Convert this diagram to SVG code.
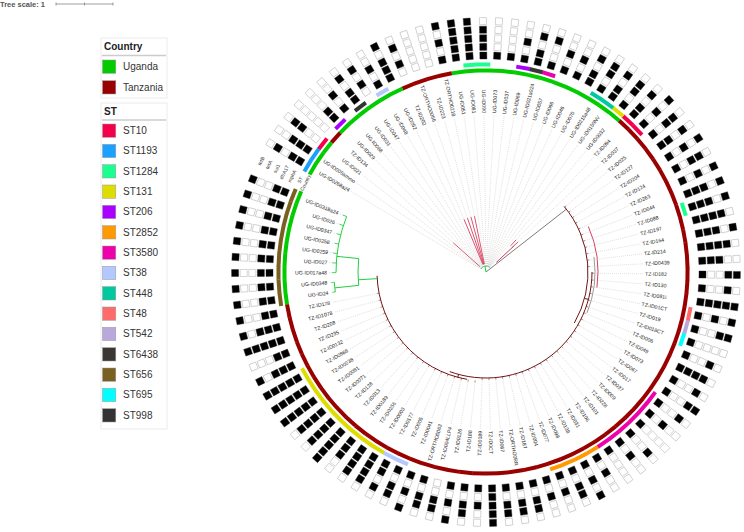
<svg xmlns="http://www.w3.org/2000/svg" xmlns:xlink="http://www.w3.org/1999/xlink" width="744" height="532" viewBox="0 0 744 532">
<style>
text{font-family:"Liberation Sans",Arial,sans-serif}
.lg{font-size:10px;fill:#333}
.lt{font-size:10px;font-weight:bold;fill:#222}
#leaves text{font-size:5.2px;fill:#222}
.f{text-anchor:end}
.hd{font-size:5px;fill:#333;text-anchor:middle}
.d{stroke:#c4c4c4;stroke-width:.5;stroke-dasharray:1 1}
.t{stroke:#6e1414;stroke-width:.5}
.r{stroke:#d23c5a;stroke-width:.8}
.g{stroke:#22d040;stroke-width:.8}
.tr{fill:none;stroke-width:1}
.sq{stroke:#999;stroke-width:.5}
</style>
<defs>
<rect id="B" y="-3.5" width="7" height="7" fill="#000" stroke="#222" stroke-width=".4"/>
<rect id="W" y="-3.5" width="7" height="7" fill="#fff" stroke="#aaa" stroke-width=".5"/>
<g id="p11001"><use href="#B" x="213"/><use href="#B" x="221.6"/><use href="#W" x="230.2"/><use href="#W" x="238.8"/><use href="#B" x="247.4"/></g>
<g id="p11101"><use href="#B" x="213"/><use href="#B" x="221.6"/><use href="#B" x="230.2"/><use href="#W" x="238.8"/><use href="#B" x="247.4"/></g>
<g id="p11111"><use href="#B" x="213"/><use href="#B" x="221.6"/><use href="#B" x="230.2"/><use href="#B" x="238.8"/><use href="#B" x="247.4"/></g>
<g id="p11000"><use href="#B" x="213"/><use href="#B" x="221.6"/><use href="#W" x="230.2"/><use href="#W" x="238.8"/><use href="#W" x="247.4"/></g>
<g id="p11110"><use href="#B" x="213"/><use href="#B" x="221.6"/><use href="#B" x="230.2"/><use href="#B" x="238.8"/><use href="#W" x="247.4"/></g>
<g id="p11100"><use href="#B" x="213"/><use href="#B" x="221.6"/><use href="#B" x="230.2"/><use href="#W" x="238.8"/><use href="#W" x="247.4"/></g>
<g id="p11010"><use href="#B" x="213"/><use href="#B" x="221.6"/><use href="#W" x="230.2"/><use href="#B" x="238.8"/><use href="#W" x="247.4"/></g>
<g id="p10110"><use href="#B" x="213"/><use href="#W" x="221.6"/><use href="#B" x="230.2"/><use href="#B" x="238.8"/><use href="#W" x="247.4"/></g>
<g id="p10101"><use href="#B" x="213"/><use href="#W" x="221.6"/><use href="#B" x="230.2"/><use href="#W" x="238.8"/><use href="#B" x="247.4"/></g>
<g id="p00110"><use href="#W" x="213"/><use href="#W" x="221.6"/><use href="#B" x="230.2"/><use href="#B" x="238.8"/><use href="#W" x="247.4"/></g>
<g id="p10100"><use href="#B" x="213"/><use href="#W" x="221.6"/><use href="#B" x="230.2"/><use href="#W" x="238.8"/><use href="#W" x="247.4"/></g>
<g id="p10000"><use href="#B" x="213"/><use href="#W" x="221.6"/><use href="#W" x="230.2"/><use href="#W" x="238.8"/><use href="#W" x="247.4"/></g>
<g id="p10010"><use href="#B" x="213"/><use href="#W" x="221.6"/><use href="#W" x="230.2"/><use href="#B" x="238.8"/><use href="#W" x="247.4"/></g>
<g id="p10011"><use href="#B" x="213"/><use href="#W" x="221.6"/><use href="#W" x="230.2"/><use href="#B" x="238.8"/><use href="#B" x="247.4"/></g>
<g id="p00000"><use href="#W" x="213"/><use href="#W" x="221.6"/><use href="#W" x="230.2"/><use href="#W" x="238.8"/><use href="#W" x="247.4"/></g>
<g id="p01010"><use href="#W" x="213"/><use href="#B" x="221.6"/><use href="#W" x="230.2"/><use href="#B" x="238.8"/><use href="#W" x="247.4"/></g>
<rect id="cU" x="199.5" y="-6.6" width="4" height="13.2" fill="#00cc00"/>
<rect id="cT" x="199.5" y="-6.6" width="4" height="13.2" fill="#990000"/>
<rect id="s10" x="205.5" y="-6.8" width="4" height="13.6" fill="#f5004a"/>
<rect id="s1193" x="205.5" y="-6.8" width="4" height="13.6" fill="#1aa0ff"/>
<rect id="s1284" x="205.5" y="-6.8" width="4" height="13.6" fill="#1aff90"/>
<rect id="s131" x="205.5" y="-6.8" width="4" height="13.6" fill="#dddd00"/>
<rect id="s206" x="205.5" y="-6.8" width="4" height="13.6" fill="#aa00ff"/>
<rect id="s2852" x="205.5" y="-6.8" width="4" height="13.6" fill="#ff9900"/>
<rect id="s3580" x="205.5" y="-6.8" width="4" height="13.6" fill="#ee00aa"/>
<rect id="s38" x="205.5" y="-6.8" width="4" height="13.6" fill="#b3c8ff"/>
<rect id="s448" x="205.5" y="-6.8" width="4" height="13.6" fill="#00c9a0"/>
<rect id="s48" x="205.5" y="-6.8" width="4" height="13.6" fill="#ff6b6b"/>
<rect id="s542" x="205.5" y="-6.8" width="4" height="13.6" fill="#b8a8dc"/>
<rect id="s6438" x="205.5" y="-6.8" width="4" height="13.6" fill="#3a3634"/>
<rect id="s656" x="205.5" y="-6.8" width="4" height="13.6" fill="#7a6020"/>
<rect id="s695" x="205.5" y="-6.8" width="4" height="13.6" fill="#00ffff"/>
<rect id="s998" x="205.5" y="-6.8" width="4" height="13.6" fill="#333333"/>
</defs>
<rect width="744" height="532" fill="#fff"/>
<g id="scale">
<text x="0" y="7" style="font-size:7.5px;font-weight:bold;fill:#555">Tree scale: 1</text>
<path d="M56 4H113M56 2.5V5.5M84.5 2.5V5.5M113 2.5V5.5" stroke="#777" stroke-width=".7" fill="none"/>
</g>
<g id="legend">
<rect x="101" y="38" width="66" height="60" fill="#fff" stroke="#ebebeb"/>
<text x="104" y="50" class="lt">Country</text>
<line x1="102" y1="55.5" x2="166" y2="55.5" stroke="#ccc" stroke-width="1.5"/>
<rect class="sq" x="102.5" y="60" width="13.3" height="13.3" fill="#00cc00"/><text class="lg" x="123" y="70">Uganda</text>
<rect class="sq" x="102.5" y="80.7" width="13.3" height="13.3" fill="#990000"/><text class="lg" x="123" y="90.7">Tanzania</text>
<rect x="101" y="103" width="66" height="326" fill="#fff" stroke="#ebebeb"/>
<text x="104" y="115" class="lt">ST</text>
<line x1="102" y1="120" x2="166" y2="120" stroke="#ccc" stroke-width="1.5"/>
<rect class="sq" x="102.5" y="124" width="13.3" height="13.3" fill="#f5004a"/><text class="lg" x="123" y="134">ST10</text>
<rect class="sq" x="102.5" y="144.3" width="13.3" height="13.3" fill="#1aa0ff"/><text class="lg" x="123" y="154.3">ST1193</text>
<rect class="sq" x="102.5" y="164.7" width="13.3" height="13.3" fill="#1aff90"/><text class="lg" x="123" y="174.7">ST1284</text>
<rect class="sq" x="102.5" y="185" width="13.3" height="13.3" fill="#dddd00"/><text class="lg" x="123" y="195">ST131</text>
<rect class="sq" x="102.5" y="205.3" width="13.3" height="13.3" fill="#aa00ff"/><text class="lg" x="123" y="215.3">ST206</text>
<rect class="sq" x="102.5" y="225.7" width="13.3" height="13.3" fill="#ff9900"/><text class="lg" x="123" y="235.7">ST2852</text>
<rect class="sq" x="102.5" y="246" width="13.3" height="13.3" fill="#ee00aa"/><text class="lg" x="123" y="256">ST3580</text>
<rect class="sq" x="102.5" y="266.3" width="13.3" height="13.3" fill="#b3c8ff"/><text class="lg" x="123" y="276.3">ST38</text>
<rect class="sq" x="102.5" y="286.7" width="13.3" height="13.3" fill="#00c9a0"/><text class="lg" x="123" y="296.7">ST448</text>
<rect class="sq" x="102.5" y="307" width="13.3" height="13.3" fill="#ff6b6b"/><text class="lg" x="123" y="317">ST48</text>
<rect class="sq" x="102.5" y="327.3" width="13.3" height="13.3" fill="#b8a8dc"/><text class="lg" x="123" y="337.3">ST542</text>
<rect class="sq" x="102.5" y="347.7" width="13.3" height="13.3" fill="#3a3634"/><text class="lg" x="123" y="357.7">ST6438</text>
<rect class="sq" x="102.5" y="368" width="13.3" height="13.3" fill="#7a6020"/><text class="lg" x="123" y="378">ST656</text>
<rect class="sq" x="102.5" y="388.3" width="13.3" height="13.3" fill="#00ffff"/><text class="lg" x="123" y="398.3">ST695</text>
<rect class="sq" x="102.5" y="408.7" width="13.3" height="13.3" fill="#333333"/><text class="lg" x="123" y="418.7">ST998</text>
</g>
<g transform="translate(486,272)">
<g id="connectors">
<path class="tr" stroke="#7a7a7a" d="M0 0L80.38 -62.8"/>
<path class="tr r" d="M10.24 -9.55L27.79 -25.92"/>
<path class="tr t" style="stroke-width:1" d="M78.14 -65.56A102 102 0 0 1 88.33 51"/>
<path class="tr t" style="stroke-width:1" d="M98.5 26.4L102.4 27.4"/>
<path class="tr t" style="stroke-width:1" d="M106 0A106 106 0 0 1 -36.25 99.61"/>
<path class="tr t" style="stroke-width:1" d="M-27.43 102.39L-28.21 105.28"/>
<path class="tr t" style="stroke-width:1" d="M-18.93 107.34A109 109 0 0 1 -108.93 3.8"/>
<path class="tr" stroke="#d6405a" d="M102.32 -45.55A112 112 0 0 1 110.91 15.59"/>
<path class="tr" stroke="#999" d="M107.94 -15.17A109 109 0 0 1 101.06 40.83"/>
<path class="tr g" d="M-108.8 6.65L-127.76 7.81"/>
<path class="tr g" d="M-127.3 -13.38A128 128 0 0 0 -127.3 13.38"/>
<path class="tr g" d="M-127.3 -13.38L-149.18 -15.68"/>
<path class="tr g" d="M-139.38 -55.46A150 150 0 0 0 -150 0.6"/>
<path class="tr g" d="M-127.3 13.38L-151.17 15.89"/>
<path class="tr g" d="M-151.65 10.31A152 152 0 0 0 -150.69 19.95"/>
<path class="tr g" d="M3.86 -4.6A6 6 0 0 0 -5.2 -3"/>
<path class="tr g" d="M0 0L-1.04 -5.91"/>
</g>
<g id="headers">
<g transform="rotate(-153.7)">
<text class="hd" transform="translate(201.5,0) rotate(90)" y="1.8">Country</text>
<text class="hd" transform="translate(207.5,0) rotate(90)" y="1.8">ST</text>
<text class="hd" transform="translate(216.5,0) rotate(90)" y="1.8">mphA</text>
<text class="hd" transform="translate(225.1,0) rotate(90)" y="1.8">dfrA17</text>
<text class="hd" transform="translate(233.7,0) rotate(90)" y="1.8">sul1</text>
<text class="hd" transform="translate(242.3,0) rotate(90)" y="1.8">tetA</text>
<text class="hd" transform="translate(250.9,0) rotate(90)" y="1.8">tetB</text>
</g>
</g>
<g id="leaves">
<g id="n0" transform="rotate(-158.3)"><line class="g" x1="150" x2="154"/><line class="d" x1="154" x2="157"/><text class="f" transform="rotate(180)" x="-159" y="1.8">UG-ID0318a24</text><use href="#cU"/><use href="#s656"/><use href="#p11001"/></g>
<g id="n1" transform="rotate(-161.96)"><line class="g" x1="150" x2="154"/><line class="d" x1="154" x2="157"/><text class="f" transform="rotate(180)" x="-159" y="1.8">UG-ID026</text><use href="#cU"/><use href="#s656"/><use href="#p11001"/></g>
<g id="n2" transform="rotate(-165.61)"><line class="g" x1="150" x2="154"/><line class="d" x1="154" x2="157"/><text class="f" transform="rotate(180)" x="-159" y="1.8">UG-ID0347</text><use href="#cU"/><use href="#s656"/><use href="#p11001"/></g>
<g id="n3" transform="rotate(-169.27)"><line class="g" x1="150" x2="154"/><line class="d" x1="154" x2="157"/><text class="f" transform="rotate(180)" x="-159" y="1.8">UG-ID0258</text><use href="#cU"/><use href="#s656"/><use href="#p11001"/></g>
<g id="n4" transform="rotate(-172.92)"><line class="g" x1="150" x2="154"/><line class="d" x1="154" x2="157"/><text class="f" transform="rotate(180)" x="-159" y="1.8">UG-ID0259</text><use href="#cU"/><use href="#s656"/><use href="#p11001"/></g>
<g id="n5" transform="rotate(-176.58)"><line class="g" x1="150" x2="154"/><line class="d" x1="154" x2="157"/><text class="f" transform="rotate(180)" x="-159" y="1.8">UG-ID027</text><use href="#cU"/><use href="#s656"/><use href="#p11001"/></g>
<g id="n6" transform="rotate(-180.23)"><line class="g" x1="150" x2="154"/><line class="d" x1="154" x2="157"/><text class="f" transform="rotate(180)" x="-159" y="1.8">UG-ID017a48</text><use href="#cU"/><use href="#s656"/><use href="#p11001"/></g>
<g id="n7" transform="rotate(-183.89)"><line class="g" x1="152" x2="155"/><line class="d" x1="155" x2="157"/><text class="f" transform="rotate(180)" x="-159" y="1.8">UG-ID0348</text><use href="#cU"/><use href="#s656"/><use href="#p11001"/></g>
<g id="n8" transform="rotate(-187.54)"><line class="g" x1="152" x2="155"/><line class="d" x1="155" x2="157"/><text class="f" transform="rotate(180)" x="-159" y="1.8">UG-ID24</text><use href="#cU"/><use href="#s656"/><use href="#p11001"/></g>
<g id="n9" transform="rotate(-191.2)"><line class="t" x1="109" x2="111"/><line class="d" x1="111" x2="157"/><text class="f" transform="rotate(180)" x="-159" y="1.8">TZ-ID178</text><use href="#cT"/><use href="#p11001"/></g>
<g id="n10" transform="rotate(-194.85)"><line class="t" x1="109" x2="111"/><line class="d" x1="111" x2="157"/><text class="f" transform="rotate(180)" x="-159" y="1.8">TZ-ID1078</text><use href="#cT"/><use href="#p11101"/></g>
<g id="n11" transform="rotate(-198.51)"><line class="t" x1="109" x2="111"/><line class="d" x1="111" x2="157"/><text class="f" transform="rotate(180)" x="-159" y="1.8">TZ-ID208</text><use href="#cT"/><use href="#p11111"/></g>
<g id="n12" transform="rotate(-202.16)"><line class="t" x1="109" x2="111"/><line class="d" x1="111" x2="157"/><text class="f" transform="rotate(180)" x="-159" y="1.8">TZ-ID235</text><use href="#cT"/><use href="#p11000"/></g>
<g id="n13" transform="rotate(-205.82)"><line class="t" x1="109" x2="111"/><line class="d" x1="111" x2="157"/><text class="f" transform="rotate(180)" x="-159" y="1.8">TZ-ID0132</text><use href="#cT"/><use href="#p11101"/></g>
<g id="n14" transform="rotate(-209.47)"><line class="t" x1="109" x2="111"/><line class="d" x1="111" x2="157"/><text class="f" transform="rotate(180)" x="-159" y="1.8">TZ-ID0868</text><use href="#cT"/><use href="#s131"/><use href="#p11111"/></g>
<g id="n15" transform="rotate(-213.13)"><line class="t" x1="109" x2="111"/><line class="d" x1="111" x2="157"/><text class="f" transform="rotate(180)" x="-159" y="1.8">TZ-ID0238</text><use href="#cT"/><use href="#s131"/><use href="#p11111"/></g>
<g id="n16" transform="rotate(-216.78)"><line class="t" x1="109" x2="111"/><line class="d" x1="111" x2="157"/><text class="f" transform="rotate(180)" x="-159" y="1.8">TZ-ID0081</text><use href="#cT"/><use href="#s131"/><use href="#p11111"/></g>
<g id="n17" transform="rotate(-220.44)"><line class="t" x1="109" x2="111"/><line class="d" x1="111" x2="157"/><text class="f" transform="rotate(180)" x="-159" y="1.8">TZ-ID0071</text><use href="#cT"/><use href="#s131"/><use href="#p11110"/></g>
<g id="n18" transform="rotate(-224.09)"><line class="t" x1="109" x2="111"/><line class="d" x1="111" x2="157"/><text class="f" transform="rotate(180)" x="-159" y="1.8">TZ-ID128</text><use href="#cT"/><use href="#s131"/><use href="#p11110"/></g>
<g id="n19" transform="rotate(-227.75)"><line class="t" x1="109" x2="111"/><line class="d" x1="111" x2="157"/><text class="f" transform="rotate(180)" x="-159" y="1.8">TZ-ID013</text><use href="#cT"/><use href="#s131"/><use href="#p11111"/></g>
<g id="n20" transform="rotate(-231.4)"><line class="t" x1="109" x2="111"/><line class="d" x1="111" x2="157"/><text class="f" transform="rotate(180)" x="-159" y="1.8">TZ-ID0189</text><use href="#cT"/><use href="#s131"/><use href="#p11100"/></g>
<g id="n21" transform="rotate(-235.06)"><line class="t" x1="109" x2="111"/><line class="d" x1="111" x2="157"/><text class="f" transform="rotate(180)" x="-159" y="1.8">TZ-ID0256</text><use href="#cT"/><use href="#s131"/><use href="#p11110"/></g>
<g id="n22" transform="rotate(-238.71)"><line class="t" x1="109" x2="111"/><line class="d" x1="111" x2="157"/><text class="f" transform="rotate(180)" x="-159" y="1.8">TZ-ID0003</text><use href="#cT"/><use href="#s131"/><use href="#p11110"/></g>
<g id="n23" transform="rotate(-242.37)"><line class="t" x1="109" x2="111"/><line class="d" x1="111" x2="157"/><text class="f" transform="rotate(180)" x="-159" y="1.8">TZ-ID0177</text><use href="#cT"/><use href="#s38"/><use href="#p11010"/></g>
<g id="n24" transform="rotate(-246.02)"><line class="t" x1="109" x2="111"/><line class="d" x1="111" x2="157"/><text class="f" transform="rotate(180)" x="-159" y="1.8">TZ-ID005</text><use href="#cT"/><use href="#s38"/><use href="#p10110"/></g>
<g id="n25" transform="rotate(-249.68)"><line class="t" x1="109" x2="111"/><line class="d" x1="111" x2="157"/><text class="f" transform="rotate(180)" x="-159" y="1.8">TZ-ID0041</text><use href="#cT"/><use href="#p10101"/></g>
<g id="n26" transform="rotate(-253.33)"><line class="t" x1="109" x2="111"/><line class="d" x1="111" x2="157"/><text class="f" transform="rotate(180)" x="-159" y="1.8">TZ-ORTHO0063</text><use href="#cT"/><use href="#p10110"/></g>
<g id="n27" transform="rotate(-256.99)"><line class="t" x1="109" x2="111"/><line class="d" x1="111" x2="157"/><text class="f" transform="rotate(180)" x="-159" y="1.8">TZ-ID004LLP4</text><use href="#cT"/><use href="#p00110"/></g>
<g id="n28" transform="rotate(-260.64)"><line class="t" x1="109" x2="111"/><line class="d" x1="111" x2="157"/><text class="f" transform="rotate(180)" x="-159" y="1.8">TZ-ID0126</text><use href="#cT"/><use href="#p10101"/></g>
<g id="n29" transform="rotate(-264.3)"><line class="t" x1="109" x2="111"/><line class="d" x1="111" x2="157"/><text class="f" transform="rotate(180)" x="-159" y="1.8">TZ-ID188</text><use href="#cT"/><use href="#p10110"/></g>
<g id="n30" transform="rotate(-267.95)"><line class="t" x1="106" x2="108"/><line class="d" x1="108" x2="157"/><text class="f" transform="rotate(180)" x="-159" y="1.8">TZ-ID0189</text><use href="#cT"/><use href="#p10100"/></g>
<g id="n31" transform="rotate(-271.61)"><line class="t" x1="106" x2="108"/><line class="d" x1="108" x2="157"/><text x="159" y="1.8">TZ-ID0CT</text><use href="#cT"/><use href="#p11111"/></g>
<g id="n32" transform="rotate(-275.26)"><line class="t" x1="106" x2="108"/><line class="d" x1="108" x2="157"/><text x="159" y="1.8">TZ-ID067</text><use href="#cT"/><use href="#p10110"/></g>
<g id="n33" transform="rotate(-278.92)"><line class="t" x1="106" x2="108"/><line class="d" x1="108" x2="157"/><text x="159" y="1.8">TZ-ORTHO0RR</text><use href="#cT"/><use href="#p10110"/></g>
<g id="n34" transform="rotate(-282.57)"><line class="t" x1="106" x2="108"/><line class="d" x1="108" x2="157"/><text x="159" y="1.8">TZ-ID187</text><use href="#cT"/><use href="#p10110"/></g>
<g id="n35" transform="rotate(-286.23)"><line class="t" x1="106" x2="108"/><line class="d" x1="108" x2="157"/><text x="159" y="1.8">TZ-ID004</text><use href="#cT"/><use href="#p10100"/></g>
<g id="n36" transform="rotate(-289.88)"><line class="t" x1="106" x2="108"/><line class="d" x1="108" x2="157"/><text x="159" y="1.8">TZ-ID077</text><use href="#cT"/><use href="#s2852"/><use href="#p10100"/></g>
<g id="n37" transform="rotate(-293.54)"><line class="t" x1="106" x2="108"/><line class="d" x1="108" x2="157"/><text x="159" y="1.8">TZ-ID098</text><use href="#cT"/><use href="#s2852"/><use href="#p10110"/></g>
<g id="n38" transform="rotate(-297.19)"><line class="t" x1="106" x2="108"/><line class="d" x1="108" x2="157"/><text x="159" y="1.8">TZ-ID138</text><use href="#cT"/><use href="#s2852"/><use href="#p10101"/></g>
<g id="n39" transform="rotate(-300.85)"><line class="t" x1="106" x2="108"/><line class="d" x1="108" x2="157"/><text x="159" y="1.8">TZ-ID031</text><use href="#cT"/><use href="#s2852"/><use href="#p10100"/></g>
<g id="n40" transform="rotate(-304.5)"><line class="t" x1="106" x2="108"/><line class="d" x1="108" x2="157"/><text x="159" y="1.8">TZ-ID106</text><use href="#cT"/><use href="#s3580"/><use href="#p10000"/></g>
<g id="n41" transform="rotate(-308.16)"><line class="t" x1="106" x2="108"/><line class="d" x1="108" x2="157"/><text x="159" y="1.8">TZ-ID101</text><use href="#cT"/><use href="#s3580"/><use href="#p10100"/></g>
<g id="n42" transform="rotate(-311.81)"><line class="t" x1="106" x2="108"/><line class="d" x1="108" x2="157"/><text x="159" y="1.8">TZ-ID228</text><use href="#cT"/><use href="#s3580"/><use href="#p10010"/></g>
<g id="n43" transform="rotate(-315.47)"><line class="t" x1="106" x2="108"/><line class="d" x1="108" x2="157"/><text x="159" y="1.8">TZ-ID009</text><use href="#cT"/><use href="#s3580"/><use href="#p10000"/></g>
<g id="n44" transform="rotate(-319.12)"><line class="t" x1="106" x2="108"/><line class="d" x1="108" x2="157"/><text x="159" y="1.8">TZ-ID037</text><use href="#cT"/><use href="#s3580"/><use href="#p10100"/></g>
<g id="n45" transform="rotate(-322.78)"><line class="t" x1="106" x2="108"/><line class="d" x1="108" x2="157"/><text x="159" y="1.8">TZ-ID017</text><use href="#cT"/><use href="#s3580"/><use href="#p10010"/></g>
<g id="n46" transform="rotate(-326.43)"><line class="t" x1="106" x2="108"/><line class="d" x1="108" x2="157"/><text x="159" y="1.8">TZ-ID067</text><use href="#cT"/><use href="#p10011"/></g>
<g id="n47" transform="rotate(-330.09)"><line class="t" x1="106" x2="108"/><line class="d" x1="108" x2="157"/><text x="159" y="1.8">TZ-ID073</text><use href="#cT"/><use href="#p10010"/></g>
<g id="n48" transform="rotate(-333.74)"><line class="t" x1="106" x2="108"/><line class="d" x1="108" x2="157"/><text x="159" y="1.8">TZ-ID049</text><use href="#cT"/><use href="#p11110"/></g>
<g id="n49" transform="rotate(-337.4)"><line class="t" x1="106" x2="108"/><line class="d" x1="108" x2="157"/><text x="159" y="1.8">TZ-ID006</text><use href="#cT"/><use href="#p10010"/></g>
<g id="n50" transform="rotate(-341.05)"><line class="t" x1="106" x2="108"/><line class="d" x1="108" x2="157"/><text x="159" y="1.8">TZ-ID018CT</text><use href="#cT"/><use href="#s695"/><use href="#p10000"/></g>
<g id="n51" transform="rotate(-344.71)"><line class="t" x1="106" x2="108"/><line class="d" x1="108" x2="157"/><text x="159" y="1.8">TZ-ID019</text><use href="#cT"/><use href="#s542"/><use href="#p10011"/></g>
<g id="n52" transform="rotate(-348.36)"><line class="t" x1="106" x2="108"/><line class="d" x1="108" x2="157"/><text x="159" y="1.8">TZ-ID01CT</text><use href="#cT"/><use href="#s48"/><use href="#p10101"/></g>
<g id="n53" transform="rotate(-352.02)"><line class="t" x1="106" x2="108"/><line class="d" x1="108" x2="157"/><text x="159" y="1.8">TZ-ID081i</text><use href="#cT"/><use href="#p11111"/></g>
<g id="n54" transform="rotate(-355.67)"><line class="t" x1="106" x2="108"/><line class="d" x1="108" x2="157"/><text x="159" y="1.8">TZ-ID130</text><use href="#cT"/><use href="#p10010"/></g>
<g id="n55" transform="rotate(-359.33)"><line class="t" x1="106" x2="108"/><line class="d" x1="108" x2="157"/><text x="159" y="1.8">TZ-ID182</text><use href="#cT"/><use href="#p10011"/></g>
<g id="n56" transform="rotate(-362.98)"><line class="t" x1="102" x2="104"/><line class="d" x1="104" x2="157"/><text x="159" y="1.8">TZ-ID0439</text><use href="#cT"/><use href="#p11100"/></g>
<g id="n57" transform="rotate(-366.64)"><line class="t" x1="102" x2="104"/><line class="d" x1="104" x2="157"/><text x="159" y="1.8">TZ-ID214</text><use href="#cT"/><use href="#p11110"/></g>
<g id="n58" transform="rotate(-370.29)"><line class="t" x1="102" x2="104"/><line class="d" x1="104" x2="157"/><text x="159" y="1.8">TZ-ID164</text><use href="#cT"/><use href="#p11101"/></g>
<g id="n59" transform="rotate(-373.95)"><line class="t" x1="102" x2="104"/><line class="d" x1="104" x2="157"/><text x="159" y="1.8">TZ-ID197</text><use href="#cT"/><use href="#p11110"/></g>
<g id="n60" transform="rotate(-377.6)"><line class="t" x1="102" x2="104"/><line class="d" x1="104" x2="157"/><text x="159" y="1.8">TZ-ID088</text><use href="#cT"/><use href="#s1284"/><use href="#p11101"/></g>
<g id="n61" transform="rotate(-381.26)"><line class="t" x1="102" x2="104"/><line class="d" x1="104" x2="157"/><text x="159" y="1.8">TZ-ID044</text><use href="#cT"/><use href="#p11101"/></g>
<g id="n62" transform="rotate(-384.91)"><line class="t" x1="102" x2="104"/><line class="d" x1="104" x2="157"/><text x="159" y="1.8">TZ-ID263</text><use href="#cT"/><use href="#p10101"/></g>
<g id="n63" transform="rotate(-388.57)"><line class="t" x1="102" x2="104"/><line class="d" x1="104" x2="157"/><text x="159" y="1.8">TZ-ID124</text><use href="#cT"/><use href="#p10110"/></g>
<g id="n64" transform="rotate(-392.22)"><line class="t" x1="102" x2="104"/><line class="d" x1="104" x2="157"/><text x="159" y="1.8">TZ-ID204</text><use href="#cT"/><use href="#p10101"/></g>
<g id="n65" transform="rotate(-395.88)"><line class="t" x1="102" x2="104"/><line class="d" x1="104" x2="157"/><text x="159" y="1.8">TZ-ID127</text><use href="#cT"/><use href="#p11010"/></g>
<g id="n66" transform="rotate(-399.53)"><line class="t" x1="102" x2="104"/><line class="d" x1="104" x2="157"/><text x="159" y="1.8">TZ-ID025</text><use href="#cT"/><use href="#p10110"/></g>
<g id="n67" transform="rotate(-403.19)"><line class="r" x1="36" x2="44"/><line class="d" x1="44" x2="157"/><text x="159" y="1.8">TZ-ID037</text><use href="#cT"/><use href="#s10"/><use href="#p10101"/></g>
<g id="n68" transform="rotate(-406.84)"><line class="r" x1="36" x2="44"/><line class="d" x1="44" x2="157"/><text x="159" y="1.8">TZ-ID094</text><use href="#cT"/><use href="#s10"/><use href="#p11010"/></g>
<g id="n69" transform="rotate(-410.5)"><line class="d" x1="6" x2="157"/><text x="159" y="1.8">UG-ID0032</text><use href="#cU"/><use href="#s131"/><use href="#p10110"/></g>
<g id="n70" transform="rotate(-414.15)"><line class="d" x1="6" x2="157"/><text x="159" y="1.8">UG-ID0150NV</text><use href="#cU"/><use href="#s448"/><use href="#p11010"/></g>
<g id="n71" transform="rotate(-417.81)"><line class="d" x1="6" x2="157"/><text x="159" y="1.8">UG-ID0215a48</text><use href="#cU"/><use href="#s448"/><use href="#p10110"/></g>
<g id="n72" transform="rotate(-421.46)"><line class="d" x1="6" x2="157"/><text x="159" y="1.8">UG-ID070</text><use href="#cU"/><use href="#p11010"/></g>
<g id="n73" transform="rotate(-425.12)"><line class="d" x1="6" x2="157"/><text x="159" y="1.8">UG-ID046</text><use href="#cU"/><use href="#p10100"/></g>
<g id="n74" transform="rotate(-428.77)"><line class="d" x1="6" x2="157"/><text x="159" y="1.8">UG-ID066</text><use href="#cU"/><use href="#p10100"/></g>
<g id="n75" transform="rotate(-432.43)"><line class="d" x1="6" x2="157"/><text x="159" y="1.8">UG-ID057</text><use href="#cU"/><use href="#s3580"/><use href="#p10010"/></g>
<g id="n76" transform="rotate(-436.08)"><line class="d" x1="6" x2="157"/><text x="159" y="1.8">UG-ID021a024</text><use href="#cU"/><use href="#s6438"/><use href="#p11010"/></g>
<g id="n77" transform="rotate(-439.74)"><line class="d" x1="6" x2="157"/><text x="159" y="1.8">UG-ID069</text><use href="#cU"/><use href="#s206"/><use href="#p10100"/></g>
<g id="n78" transform="rotate(-443.39)"><line class="d" x1="6" x2="157"/><text x="159" y="1.8">UG-ID037</text><use href="#cU"/><use href="#p10000"/></g>
<g id="n79" transform="rotate(-447.05)"><line class="d" x1="6" x2="157"/><text x="159" y="1.8">UG-ID073</text><use href="#cU"/><use href="#p10000"/></g>
<g id="n80" transform="rotate(-450.7)"><line class="d" x1="6" x2="157"/><text class="f" transform="rotate(180)" x="-159" y="1.8">UG-ID090</text><use href="#cU"/><use href="#s1284"/><use href="#p11110"/></g>
<g id="n81" transform="rotate(-454.36)"><line class="d" x1="6" x2="157"/><text class="f" transform="rotate(180)" x="-159" y="1.8">UG-ID081</text><use href="#cU"/><use href="#s1284"/><use href="#p11111"/></g>
<g id="n82" transform="rotate(-458.01)"><line class="d" x1="6" x2="157"/><text class="f" transform="rotate(180)" x="-159" y="1.8">UG-ID051</text><use href="#cU"/><use href="#p11111"/></g>
<g id="n83" transform="rotate(-461.67)"><line class="r" x1="8" x2="57"/><line class="d" x1="57" x2="157"/><text class="f" transform="rotate(180)" x="-159" y="1.8">TZ-ORTHO0218</text><use href="#cT"/><use href="#p10101"/></g>
<g id="n84" transform="rotate(-465.32)"><line class="r" x1="8" x2="57"/><line class="d" x1="57" x2="157"/><text class="f" transform="rotate(180)" x="-159" y="1.8">TZ-ID223</text><use href="#cT"/><use href="#p00000"/></g>
<g id="n85" transform="rotate(-468.98)"><line class="r" x1="8" x2="57"/><line class="d" x1="57" x2="157"/><text class="f" transform="rotate(180)" x="-159" y="1.8">TZ-ORTHO0056</text><use href="#cT"/><use href="#p00000"/></g>
<g id="n86" transform="rotate(-472.63)"><line class="r" x1="8" x2="57"/><line class="d" x1="57" x2="157"/><text class="f" transform="rotate(180)" x="-159" y="1.8">TZ-ID202</text><use href="#cT"/><use href="#p01010"/></g>
<g id="n87" transform="rotate(-476.29)"><line class="d" x1="6" x2="157"/><text class="f" transform="rotate(180)" x="-159" y="1.8">UG-ID052</text><use href="#cU"/><use href="#p11101"/></g>
<g id="n88" transform="rotate(-479.94)"><line class="d" x1="6" x2="157"/><text class="f" transform="rotate(180)" x="-159" y="1.8">UG-ID048</text><use href="#cU"/><use href="#s38"/><use href="#p10100"/></g>
<g id="n89" transform="rotate(-483.6)"><line class="d" x1="6" x2="157"/><text class="f" transform="rotate(180)" x="-159" y="1.8">UG-ID047</text><use href="#cU"/><use href="#p01010"/></g>
<g id="n90" transform="rotate(-487.25)"><line class="d" x1="6" x2="157"/><text class="f" transform="rotate(180)" x="-159" y="1.8">UG-ID031</text><use href="#cU"/><use href="#s998"/><use href="#p11010"/></g>
<g id="n91" transform="rotate(-490.91)"><line class="d" x1="6" x2="157"/><text class="f" transform="rotate(180)" x="-159" y="1.8">UG-ID068</text><use href="#cU"/><use href="#p10100"/></g>
<g id="n92" transform="rotate(-494.56)"><line class="d" x1="6" x2="157"/><text class="f" transform="rotate(180)" x="-159" y="1.8">UG-ID029</text><use href="#cU"/><use href="#s206"/><use href="#p11000"/></g>
<g id="n93" transform="rotate(-498.22)"><line class="r" x1="8" x2="44"/><line class="d" x1="44" x2="157"/><text class="f" transform="rotate(180)" x="-159" y="1.8">TZ-ID134</text><use href="#cT"/><use href="#p00000"/></g>
<g id="n94" transform="rotate(-501.87)"><line class="d" x1="6" x2="157"/><text class="f" transform="rotate(180)" x="-159" y="1.8">UG-ID021</text><use href="#cU"/><use href="#s10"/><use href="#p00110"/></g>
<g id="n95" transform="rotate(-505.53)"><line class="d" x1="6" x2="157"/><text class="f" transform="rotate(180)" x="-159" y="1.8">UG-ID005ammo</text><use href="#cU"/><use href="#s1193"/><use href="#p11100"/></g>
<g id="n96" transform="rotate(-509.18)"><line class="d" x1="6" x2="157"/><text class="f" transform="rotate(180)" x="-159" y="1.8">UG-ID0268a24</text><use href="#cU"/><use href="#s1193"/><use href="#p11010"/></g>
</g>
</g>
</svg>
